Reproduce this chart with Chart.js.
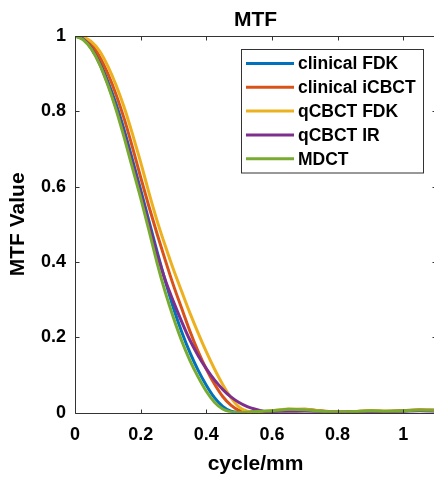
<!DOCTYPE html>
<html><head><meta charset="utf-8">
<script src="https://cdn.jsdelivr.net/npm/chart.js@4.4.0/dist/chart.umd.min.js"></script>
<style>
html,body{margin:0;padding:0;background:#fff;overflow:hidden;}
#wrap{width:434px;height:481px;overflow:hidden;position:relative;background:#fff;}
#c{position:absolute;left:0;top:0;}
</style></head><body>
<div id="wrap"><canvas id="c" width="440" height="481" style="width:440px;height:481px"></canvas></div>
<script>
const chartTitle = 'MTF';
const xTitle = 'cycle/mm';
const yTitle = 'MTF Value';
const seriesNames = ['clinical FDK', 'clinical iCBCT', 'qCBCT FDK', 'qCBCT IR', 'MDCT'];
const seriesColors = ['#0072BD', '#D95319', '#EDB120', '#7E2F8E', '#77AC30'];
const freq = [0,0.025,0.05,0.075,0.1,0.125,0.15,0.175,0.2,0.225,0.25,0.275,0.3,0.325,0.35,0.375,0.4,0.425,0.45,0.475,0.5,0.525,0.55,0.575,0.6,0.625,0.65,0.7,0.75,0.8,0.85,0.9,0.95,1.0,1.05,1.1];
const clinicalFDK = [1,0.992,0.97,0.932,0.88,0.82,0.75,0.672,0.592,0.51,0.428,0.35,0.278,0.215,0.16,0.113,0.073,0.04,0.017,0.004,0.001,0.002,0.003,0.003,0.004,0.005,0.006,0.007,0.004,0.002,0.002,0.004,0.003,0.004,0.006,0.005];
const clinicalICBCT = [1,0.995,0.978,0.945,0.9,0.845,0.78,0.705,0.625,0.548,0.475,0.405,0.338,0.277,0.217,0.163,0.116,0.076,0.043,0.02,0.006,0.002,0.002,0.003,0.004,0.006,0.008,0.009,0.005,0.002,0.003,0.005,0.004,0.005,0.008,0.007];
const qCBCTFDK = [1,0.997,0.985,0.96,0.92,0.87,0.81,0.74,0.665,0.585,0.51,0.443,0.38,0.322,0.265,0.212,0.162,0.116,0.075,0.04,0.015,0.004,0.001,0.003,0.005,0.008,0.01,0.009,0.004,0.002,0.003,0.005,0.004,0.005,0.007,0.006];
const qCBCTIR = [1,0.992,0.967,0.927,0.873,0.81,0.74,0.663,0.583,0.502,0.422,0.352,0.295,0.242,0.193,0.152,0.117,0.087,0.062,0.042,0.027,0.016,0.009,0.004,0.002,0.001,0.002,0.004,0.003,0.001,0.002,0.003,0.003,0.004,0.005,0.004];
const MDCT = [1,0.99,0.965,0.925,0.87,0.805,0.73,0.65,0.57,0.485,0.398,0.32,0.252,0.191,0.139,0.095,0.057,0.028,0.01,0.002,0,0.001,0.003,0.004,0.005,0.007,0.009,0.008,0.004,0.002,0.003,0.005,0.004,0.005,0.007,0.006];
const xTicks = [0, 0.2, 0.4, 0.6, 0.8, 1];
const yTicks = [0, 0.2, 0.4, 0.6, 0.8, 1];

const allSeries = [clinicalFDK, clinicalICBCT, qCBCTFDK, qCBCTIR, MDCT];
const FONT = '"Liberation Sans", Arial, Helvetica, sans-serif';
const AXIS = '#333333';

const datasets = allSeries.map((vals, i) => ({
  label: seriesNames[i],
  data: freq.map((f, k) => ({x: f, y: vals[k]})),
  borderColor: seriesColors[i],
  backgroundColor: seriesColors[i],
  borderWidth: 3,
  pointRadius: 0,
  cubicInterpolationMode: 'monotone',
  fill: false,
  order: allSeries.length - 1 - i
}));

const decor = {
  id: 'decor',
  afterDraw(chart) {
    const {ctx, chartArea: a, scales: {x, y}} = chart;
    ctx.save();
    ctx.strokeStyle = AXIS; ctx.lineWidth = 1;
    const L = Math.round(a.left) + 0.5, R = Math.round(a.right) + 0.5;
    const T = Math.round(a.top) + 0.5, B = Math.round(a.bottom) + 0.5;
    ctx.beginPath();
    ctx.moveTo(L, T); ctx.lineTo(R, T); ctx.lineTo(R, B); ctx.lineTo(L, B); ctx.closePath();
    x.ticks.forEach(t => {
      const px = Math.round(x.getPixelForValue(t.value)) + 0.5;
      ctx.moveTo(px, B); ctx.lineTo(px, B - 4);
      ctx.moveTo(px, T); ctx.lineTo(px, T + 4);
    });
    y.ticks.forEach(t => {
      const py = Math.round(y.getPixelForValue(t.value)) + 0.5;
      ctx.moveTo(L, py); ctx.lineTo(L + 4, py);
      ctx.moveTo(R, py); ctx.lineTo(R - 4, py);
    });
    ctx.stroke();
    // title
    ctx.fillStyle = '#000';
    ctx.font = 'bold 21px ' + FONT;
    ctx.textAlign = 'center'; ctx.textBaseline = 'middle';
    ctx.fillText(chartTitle, (a.left + a.right) / 2, 20);
    // legend
    const bx = 241, by = 49.5, bw = 182, bh = 123.5;
    ctx.fillStyle = '#fff';
    ctx.fillRect(bx, by, bw, bh);
    ctx.strokeStyle = AXIS;
    ctx.strokeRect(bx + 0.5, by, bw, bh);
    ctx.font = 'bold 17.5px ' + FONT;
    ctx.textAlign = 'left'; ctx.textBaseline = 'middle';
    chart.data.datasets.forEach((ds, i) => {
      const ry = 63.5 + i * 23.8;
      ctx.strokeStyle = ds.borderColor; ctx.lineWidth = 3;
      ctx.beginPath(); ctx.moveTo(246, ry); ctx.lineTo(294, ry); ctx.stroke();
      ctx.fillStyle = '#000';
      ctx.fillText(ds.label, 298, ry + 1);
    });
    ctx.restore();
  }
};

new Chart(document.getElementById('c'), {
  type: 'line',
  data: { datasets },
  plugins: [decor],
  options: {
    responsive: false,
    animation: false,
    devicePixelRatio: 1,
    layout: { padding: { top: 36, right: 4, bottom: 0, left: 0 } },
    plugins: { legend: { display: false }, tooltip: { enabled: false }, title: { display: false } },
    scales: {
      x: {
        type: 'linear', min: 0, max: 1.1,
        afterBuildTicks: s => { s.ticks = xTicks.map(v => ({value: v})); },
        afterFit: s => { s.height = 68.3; },
        grid: { display: false, drawTicks: false },
        border: { display: false },
        ticks: { color: '#000', padding: 12, maxRotation: 0, autoSkip: false,
          font: { family: FONT, size: 18, weight: 'bold' },
          callback: v => String(Math.round(v * 10) / 10) },
        title: { display: true, text: xTitle, color: '#000', padding: { top: 0, bottom: 4 },
          font: { family: FONT, size: 21, weight: 'bold' } }
      },
      y: {
        type: 'linear', min: 0, max: 1,
        afterBuildTicks: s => { s.ticks = yTicks.map(v => ({value: v})); },
        afterFit: s => { s.width = 75; },
        grid: { display: false, drawTicks: false },
        border: { display: false },
        ticks: { color: '#000', padding: 9, autoSkip: false,
          font: { family: FONT, size: 18, weight: 'bold' },
          callback: v => String(Math.round(v * 10) / 10) },
        title: { display: true, text: yTitle, color: '#000', padding: { top: 6, bottom: 0 },
          font: { family: FONT, size: 21, weight: 'bold' } }
      }
    }
  }
});
</script>
</body></html>
